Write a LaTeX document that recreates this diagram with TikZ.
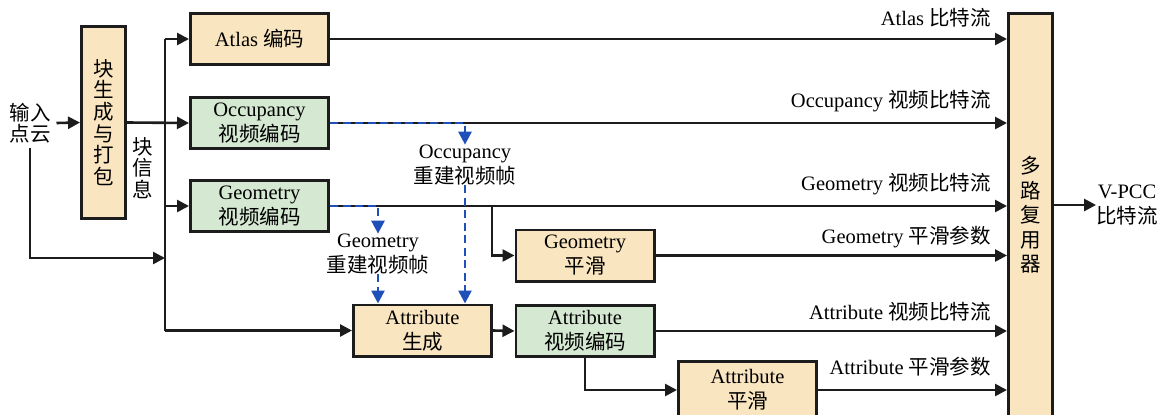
\documentclass[tikz,border=0pt]{standalone}
\usepackage{fontspec}
\setmainfont{Liberation Serif}
\newfontfamily\cjk{Noto Sans CJK SC}
\newcommand\zh[1]{{\cjk #1}}
\usetikzlibrary{arrows.meta}
\definecolor{tanc}{HTML}{F9E5BF}
\definecolor{grnc}{HTML}{D5E8D2}
\definecolor{linec}{HTML}{1C1C1C}
\definecolor{bluec}{HTML}{1F4FB8}
\newcommand\txt{\fontsize{20.5}{25}\selectfont}
\tikzset{
  box/.style={draw=linec, line width=2.8pt, inner sep=0pt, align=center, font=\txt,
              minimum width=138.2pt, minimum height=51.2pt},
  tanbox/.style={box, fill=tanc},
  grnbox/.style={box, fill=grnc},
  wire/.style={draw=linec, line width=2.6pt},
  arr/.style={wire, -{Triangle[length=12pt,width=12pt]}},
  recon/.style={draw=bluec, line width=2.6pt, dash pattern=on 8pt off 4.5pt},
  reconarr/.style={recon, -{Triangle[length=13pt,width=13pt]}},
  lab/.style={anchor=base east, inner sep=0pt, font=\txt},
  plain/.style={inner sep=2pt, align=center, font=\txt},
}
\begin{document}
\begin{tikzpicture}[x=1pt,y=-1pt]
\useasboundingbox (0,0) rectangle (1165,415);
\clip (0,0) rectangle (1165,415);

% processing blocks
\node[tanbox, minimum width=44.2pt, minimum height=192.2pt,
      font=\fontsize{20.5}{21.6}\selectfont\cjk] (pack) at (103.5,122.5)
      {块\\生\\成\\与\\打\\包};
\node[tanbox] (atlas)   at (259.5,39)    {Atlas \zh{编码}};
\node[grnbox] (occ)     at (259.5,123)   {Occupancy\\\zh{视频编码}};
\node[grnbox] (geo)     at (259.5,206)   {Geometry\\\zh{视频编码}};
\node[tanbox] (attrgen) at (422.5,330.5) {Attribute\\\zh{生成}};
\node[tanbox] (geosm)   at (585,255.5)   {Geometry\\\zh{平滑}};
\node[grnbox] (attrenc) at (585,331)     {Attribute\\\zh{视频编码}};
\node[tanbox, minimum height=57.2pt] (attrsm) at (747.5,390) {Attribute\\\zh{平滑}};
\node[tanbox, minimum width=44.2pt, minimum height=403.2pt,
      font=\fontsize{20.5}{24.5}\selectfont\cjk] (mux) at (1030.5,215)
      {多\\路\\复\\用\\器};

% free text
\node[plain, outer xsep=4pt, outer ysep=3pt, font=\fontsize{20.5}{21}\selectfont\cjk] (in) at (30,123) {输入\\点云};
\node[plain, font=\fontsize{20.5}{21.5}\selectfont\cjk] (patchinfo) at (143,168) {块\\信\\息};
\node[plain, inner sep=0pt] (occrec) at (465,165) {Occupancy\\\zh{重建视频帧}};
\node[plain, inner sep=0pt] (georec) at (378,254) {Geometry\\\zh{重建视频帧}};
\node[plain, inner sep=0pt] (out) at (1127,205) {V-PCC\\\zh{比特流}};

% stream labels
\node[lab] (lAtlas)   at (991,25)  {Atlas \zh{比特流}};
\node[lab] (lOcc)     at (991,107) {Occupancy \zh{视频比特流}};
\node[lab] (lGeo)     at (991,190) {Geometry \zh{视频比特流}};
\node[lab] (lGeoSm)   at (991,243) {Geometry \zh{平滑参数}};
\node[lab] (lAttr)    at (991,319) {Attribute \zh{视频比特流}};
\node[lab] (lAttrSm)  at (991,374) {Attribute \zh{平滑参数}};

% patch info bus
\coordinate (bus) at (165,0);
\coordinate (inj) at (165,258);
\coordinate (gbr) at (492,206);
\draw[wire] (atlas.west -| bus) -- (attrgen.west -| bus);
\draw[arr] (atlas.west -| bus) -- (atlas.west);
\draw[arr] (geo.west -| bus) -- (geo.west);
\draw[arr] (attrgen.west -| bus) -- (attrgen.west);

% input
\draw[arr] (in.east) -- (pack.west);
\draw[arr] (in.south) |- (inj);
\draw[arr] (pack.east) -- (occ.west);

% streams to the multiplexer
\draw[arr] (atlas.east) -- (atlas.east -| mux.west);
\draw[arr] (occ.east) -- (occ.east -| mux.west);
\draw[arr] (geo.east) -- (geo.east -| mux.west);
\draw[arr] (geosm.east) -- (geosm.east -| mux.west);
\draw[arr] (attrenc.east) -- (attrenc.east -| mux.west);
\draw[arr] (attrsm.east) -- (attrsm.east -| mux.west);

% geometry smoothing and attribute chain
\draw[arr] (gbr) |- (geosm.west);
\draw[arr] (attrgen.east) -- (attrenc.west);
\draw[arr] (attrenc.south) |- (attrsm.west);

% reconstructed frames
\draw[reconarr] (occ.east) -| (occrec.north);
\draw[reconarr] (occrec.south) -- (occrec.south |- attrgen.north);
\draw[reconarr] (geo.east) -| (georec.north);
\draw[reconarr] (georec.south) -- (georec.south |- attrgen.north);

% output
\draw[arr] (mux.east |- out.west) -- (out.west);
\end{tikzpicture}
\end{document}
